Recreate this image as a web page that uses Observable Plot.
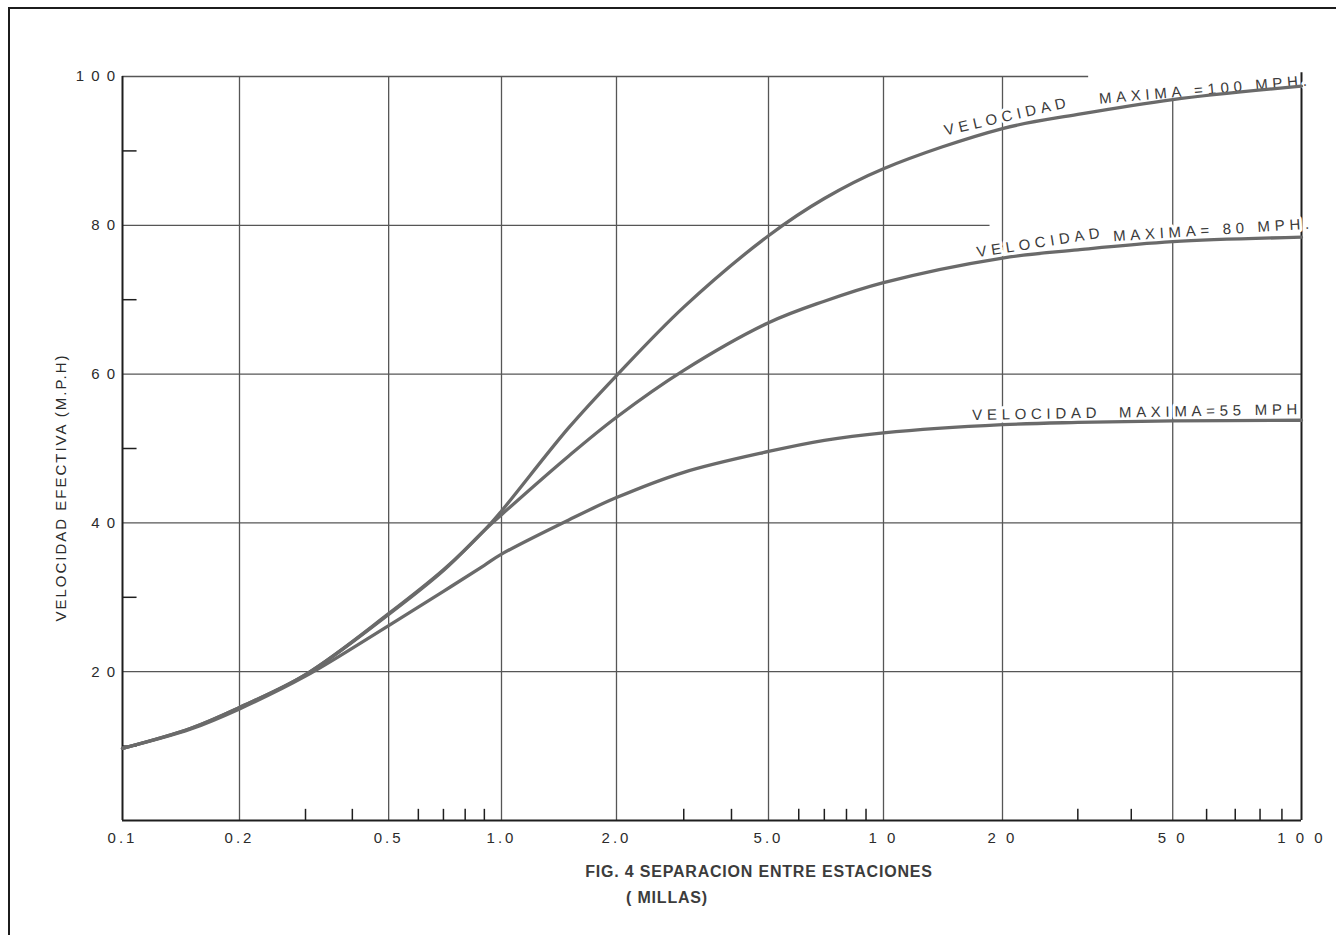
<!DOCTYPE html>
<html>
<head>
<meta charset="utf-8">
<script src="https://cdn.jsdelivr.net/npm/d3@7"></script>
<script src="https://cdn.jsdelivr.net/npm/@observablehq/plot@0.6"></script>
<style>
html, body { margin: 0; padding: 0; background: #fff; }
#page { position: relative; width: 1336px; height: 935px; overflow: hidden; background: #fff; }
#chart { position: absolute; left: 0; top: 0; }
#frame { position: absolute; left: 8px; top: 7px; width: 1340px; height: 940px;
  border-left: 2px solid #1c1c1c; border-top: 2px solid #1c1c1c; pointer-events: none; }
.cap { position: absolute; transform: translateX(-50%); white-space: nowrap;
  font-family: "Liberation Sans", Arial, sans-serif; font-size: 16px; font-weight: bold; line-height: 1;
  letter-spacing: 0.8px; color: #3c3c3c; }
#chart svg text { letter-spacing: 3px; }
#chart g[aria-description="curve label"] text { letter-spacing: 4.7px; paint-order: stroke; }
#chart g[aria-description="y-axis title"] text { letter-spacing: 2px; }
#chart g[aria-label="x-axis tick label"] text { letter-spacing: 3px; }
#chart g[aria-label="y-axis tick label"] text { letter-spacing: 1.5px; }
</style>
</head>
<body>
<div id="page">
  <div id="chart"></div>
  <div id="frame"></div>
  <div class="cap" style="left:759px; top:864px;">FIG. 4 SEPARACION ENTRE ESTACIONES</div>
  <div class="cap" style="left:667px; top:890px;">( MILLAS)</div>
</div>
<script>
// ---- data ----
const distances = [0.1, 0.15, 0.2, 0.3, 0.5, 0.7, 0.9, 1.0, 1.5, 2.0, 3.0, 5.0, 7.0, 10, 20, 30, 50, 100];
const speed100 = [9.7, 12.4, 15.2, 19.6, 27.8, 33.7, 39.0, 41.6, 52.8, 59.8, 69.0, 78.6, 83.6, 87.6, 93.0, 94.9, 96.9, 98.7];
const speed80  = [9.7, 12.4, 15.2, 19.6, 27.7, 33.6, 39.0, 41.1, 49.0, 54.2, 60.5, 66.9, 69.8, 72.3, 75.6, 76.7, 77.8, 78.4];
const speed55  = [9.7, 12.3, 15.0, 19.4, 26.2, 30.8, 34.3, 35.8, 40.4, 43.4, 46.8, 49.6, 51.1, 52.1, 53.2, 53.5, 53.7, 53.8];
const seriesNames = ["100 MPH", "80 MPH", "55 MPH"];

const xTicks = [0.1, 0.2, 0.5, 1, 2, 5, 10, 20, 50, 100];
const xTickLabels = ["0.1", "0.2", "0.5", "1.0", "2.0", "5.0", "1 0", "2 0", "5 0", "1 0 0"];
const xMinorTicks = [0.3, 0.4, 0.6, 0.7, 0.8, 0.9, 3, 4, 6, 7, 8, 9, 30, 40, 60, 70, 80, 90];
const yTicks = [20, 40, 60, 80, 100];
const yTickLabels = ["2 0", "4 0", "6 0", "8 0", "1 0 0"];
const yMinorTicks = [10, 30, 50, 70, 90];

const gridX = [0.2, 0.5, 1, 2, 5, 10, 20, 50];
const gridXTop = [100, 100, 100, 100, 100, 100, 100, 96.9];
const gridY = [20, 40, 60, 80, 100];
const gridYEnd = [100, 100, 100, 18.6, 31.8];

const yTitle = ["VELOCIDAD EFECTIVA (M.P.H)"];

const labelTexts  = ["VELOCIDAD", "MAXIMA =100 MPH.", "VELOCIDAD", "MAXIMA= 80 MPH.", "VELOCIDAD  MAXIMA=55 MPH"];
const labelAt     = [14.35, 33.7, 17.29, 36.34, 16.77];
const labelSpeed  = [92.06, 96.33, 75.7, 77.85, 53.83];
const labelAngle  = [-13, -5, -9, -3.7, -1];

// ---- tables built from the arrays ----
const seriesValues = [speed100, speed80, speed55];
const curveData = seriesNames.flatMap((name, s) =>
  distances.map((d, i) => ({series: name, distance: d, speed: seriesValues[s][i]})));
const labelData = labelTexts.map((t, i) => ({text: t, distance: labelAt[i], speed: labelSpeed[i], angle: labelAngle[i]}));
const xFmt = new Map(xTicks.map((t, i) => [t, xTickLabels[i]]));
const yFmt = new Map(yTicks.map((t, i) => [t, yTickLabels[i]]));

const ink = "#1e1e1e";
const grid = "#565656";

const chart = Plot.plot({
  width: 1336,
  height: 856,
  marginTop: 76,
  marginBottom: 36,
  marginLeft: 122,
  marginRight: 35,
  style: {fontFamily: "'Liberation Sans', Arial, sans-serif", fontSize: "15px", color: "#2b2b2b", background: "transparent", overflow: "visible"},
  x: {type: "log", domain: [0.1, 0.2, 1, 10, 20, 100], range: [122, 239, 501, 883, 1002, 1301]},
  y: {domain: [0, 100]},
  marks: [
    Plot.ruleX(gridX, {x: d => d, y1: 0, y2: (d, i) => gridXTop[i], stroke: grid, strokeWidth: 1.3}),
    Plot.ruleY(gridY, {y: d => d, x1: 0.1, x2: (d, i) => gridYEnd[i], stroke: grid, strokeWidth: 1.3}),
    Plot.ruleX([100], {x: d => d, y1: 0, y2: 100.5, stroke: ink, strokeWidth: 2}),
    Plot.ruleX([0.1], {x: d => d, y1: 0, y2: 100, stroke: ink, strokeWidth: 2}),
    Plot.ruleY([0], {y: d => d, x1: 0.1, x2: 100, stroke: ink, strokeWidth: 2}),
    Plot.ruleX(xMinorTicks, {x: d => d, y1: 0, y2: 1.5, stroke: ink, strokeWidth: 1.5}),
    Plot.ruleY(yMinorTicks, {y: d => d, x1: 0.1, x2: 0.109, stroke: ink, strokeWidth: 1.5}),
    Plot.axisX(xTicks, {tickSize: 0, tickPadding: 12, tickFormat: d => xFmt.get(d), label: null}),
    Plot.axisY(yTicks, {tickSize: 0, tickPadding: 6, tickFormat: d => yFmt.get(d), label: null}),
    Plot.text(yTitle, {frameAnchor: "left", dx: -61, dy: 39, rotate: -90, textAnchor: "middle", lineAnchor: "middle",
      fontSize: 15, fill: "#2b2b2b", ariaDescription: "y-axis title"}),
    Plot.text(labelData, {x: "distance", y: "speed", text: "text", rotate: "angle", textAnchor: "start", lineAnchor: "bottom",
      fontSize: 15, fill: "#3a3a3a", stroke: "white", strokeWidth: 6, ariaDescription: "curve label"}),
    Plot.line(curveData, {x: "distance", y: "speed", z: "series", stroke: "#6a6a6a", strokeWidth: 3.3, curve: "catmull-rom"})
  ]
});
document.getElementById("chart").appendChild(chart);
</script>
</body>
</html>
